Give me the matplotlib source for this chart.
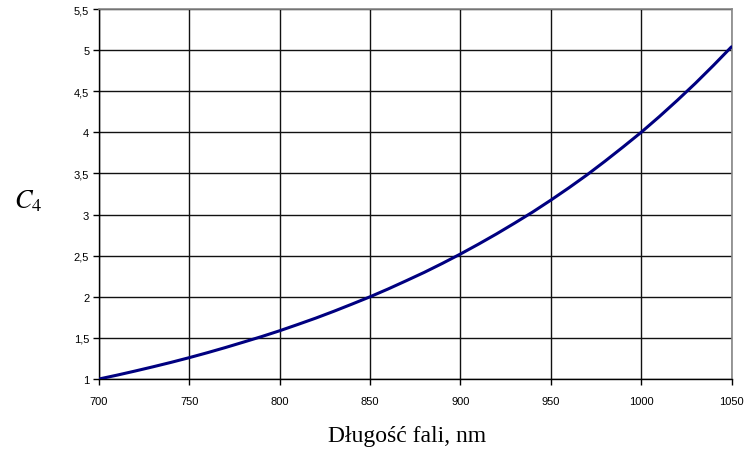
import matplotlib
matplotlib.use("Agg")
import matplotlib.pyplot as plt
from matplotlib.ticker import FuncFormatter, MultipleLocator

# wavelength (nm) and C4 values
wavelength = [700, 710, 720, 730, 740, 750, 760, 770, 780, 790, 800, 810, 820, 830, 840, 850,
              860, 870, 880, 890, 900, 910, 920, 930, 940, 950, 960, 970, 980, 990, 1000,
              1010, 1020, 1030, 1040, 1050]
c4 = [1.000, 1.047, 1.097, 1.149, 1.203, 1.260, 1.320, 1.383, 1.449, 1.516, 1.587, 1.663,
      1.741, 1.824, 1.911, 2.000, 2.095, 2.195, 2.297, 2.406, 2.520, 2.640, 2.765, 2.896,
      3.031, 3.175, 3.325, 3.482, 3.649, 3.822, 4.000, 4.190, 4.389, 4.596, 4.814, 5.040]

plt.rcParams['font.family'] = ['Liberation Sans', 'DejaVu Sans']
plt.rcParams['mathtext.fontset'] = 'stix'

fig = plt.figure(figsize=(7.47, 4.52), dpi=100)
ax = fig.add_axes([99 / 747, 1 - 380 / 452, 632.5 / 747, 370 / 452])

ax.plot(wavelength, c4, color='#000080', lw=2.2, solid_capstyle='round',
        solid_joinstyle='round', zorder=3)

ax.set_xlim(700, 1050)
ax.set_ylim(1, 5.5)
ax.xaxis.set_major_locator(MultipleLocator(50))
ax.yaxis.set_major_locator(MultipleLocator(0.5))
ax.yaxis.set_major_formatter(FuncFormatter(lambda v, p: ('%g' % v).replace('.', ',')))
ax.grid(True, color='#111111', lw=1.0)
ax.set_axisbelow(True)

for s in ['top', 'right']:
    ax.spines[s].set_color('#888888')
    ax.spines[s].set_linewidth(1.2)
for s in ['left', 'bottom']:
    ax.spines[s].set_color('black')
    ax.spines[s].set_linewidth(1.0)

ax.tick_params(axis='both', direction='out', length=4, width=1, labelsize=8, colors='black')
ax.tick_params(axis='x', pad=8)
ax.tick_params(axis='y', pad=3)

fig.text(407 / 747, 1 - 442 / 452, 'Długość fali, nm', ha='center', va='baseline',
         fontsize=17, family=['Liberation Serif', 'DejaVu Serif'])
fig.text(14 / 747, 1 - 208 / 452, r'$C_4$', ha='left', va='baseline', fontsize=19)

plt.savefig('out.png', dpi=100)
